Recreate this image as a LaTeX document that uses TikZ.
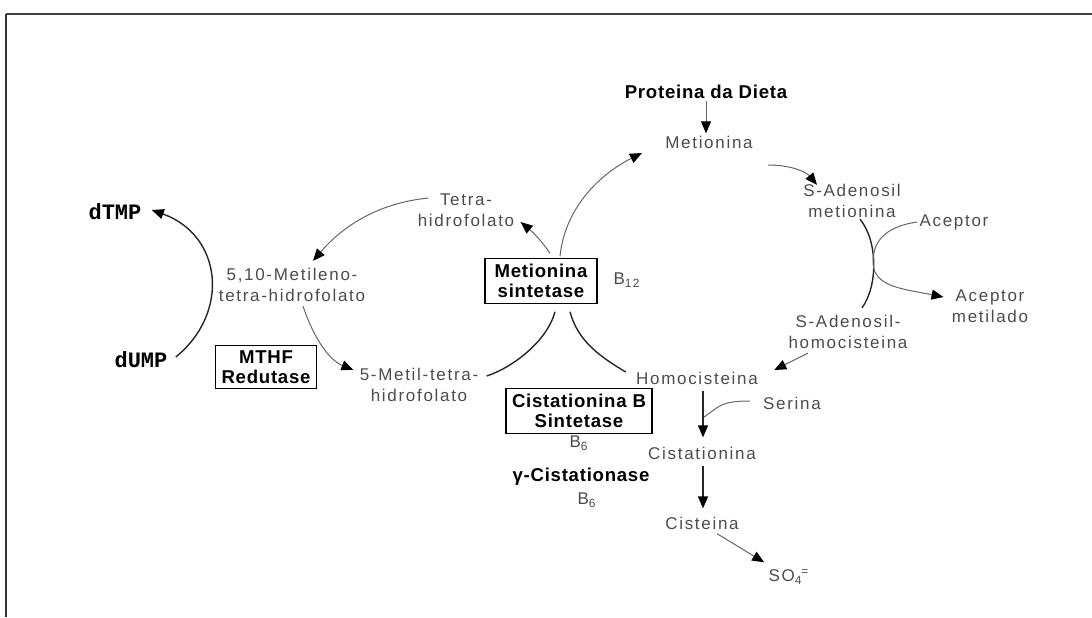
\documentclass[tikz,border=0pt]{standalone}
\usepackage{fontspec}
\setmainfont{Liberation Sans}
\newfontfamily\lab[LetterSpace=10]{Liberation Sans}
\newfontfamily\boldlab[LetterSpace=4]{Liberation Sans}
\newfontfamily\monolab{Liberation Mono}
\usetikzlibrary{arrows.meta,calc}

\begin{document}
\begin{tikzpicture}[x=0.5pt,y=-0.5pt,
	lbl/.style={font=\lab\fontsize{8.5}{10.5}\selectfont,text=black!70,align=center,inner sep=1pt},
	blbl/.style={font=\boldlab\bfseries\fontsize{9.3}{10.3}\selectfont,align=center,inner sep=1pt},
	enz/.style={blbl,draw,line width=.6pt,inner xsep=3pt,inner ysep=2.5pt},
	mono/.style={font=\monolab\bfseries\fontsize{11}{12}\selectfont,inner sep=1pt},
	ln/.style={draw=black!60,line width=.5pt},
	dln/.style={draw=black!85,line width=.7pt},
	tip/.style={-{Triangle[length=6pt,width=5pt,color=black]}}]
	\useasboundingbox(0,0)rectangle(1092,617);
	\draw[line width=1.3pt,black!75](6,14)--(1092,14);
	\draw[line width=.8pt,black!80](6,14)--(6,617);
	\node[blbl](prot)at(706,92){Proteina da Dieta};
	\node[lbl](met)at(709,142){Metionina};
	\node[lbl](sam)at(852,201){S-Adenosil\\metionina};
	\node[lbl](acep)at(954,222){Aceptor};
	\node[lbl](acepm)at(990,306){Aceptor\\metilado};
	\node[lbl](sah)at(848,332){S-Adenosil-\\homocisteina};
	\node[lbl](hcy)at(697,378){Homocisteina};
	\node[lbl](ser)at(792,403){Serina};
	\node[lbl](cist)at(702,453){Cistationina};
	\node[lbl](cys)at(702,523){Cisteina};
	\node[lbl](so4)at(789,577){SO\textsubscript{4}\kern-.5pt\textsuperscript{=}};
	\node[lbl](thf)at(466,210){Tetra-\\hidrofolato};
	\node[lbl](mtf)at(292,285){5,10-Metileno-\\tetra-hidrofolato};
	\node[lbl](mthf5)at(419,385){5-Metil-tetra-\\hidrofolato};
	\node[enz](mthfr)at(266,367){MTHF\\Redutase};
	\node[enz,minimum width=56pt](ms)at(541,281){Metionina\\sintetase};
	\node[lbl](b12)at(627,280){B\textsubscript{12}};
	\node[enz](cbs)at(579,411){Cistationina B\\Sintetase};
	\node[lbl](b6a)at(579,443){B\textsubscript{6}};
	\node[blbl](gcase)at(581,477){γ-Cistationase};
	\node[lbl](b6b)at(587,500){B\textsubscript{6}};
	\node[mono](dtmp)at(115,212){dTMP};
	\node[mono](dump)at(141,360){dUMP};
	\coordinate(j1)at(704,417);
	\coordinate(j2)at(873,262);
	\draw[ln,tip](prot.south)--(prot.south|-met.north);
	\draw[ln,tip]($(ms.north)+(19,-2)$)..controls+(5,-50)and+(-40,20)..($(met.west)+(-21,11)$);
	\draw[ln,tip]($(ms.north)+(9,-5)$)..controls+(-8,-12)and+(12,10)..($(thf.east)+(4,12)$);
	\draw[ln,tip]($(thf.west)+(13,-12)$)..controls+(-50,5)and+(30,-35)..($(mtf.north)+(21,-5)$);
	\draw[ln,tip]($(mtf.south)+(11,2)$)..controls+(10,30)and+(-25,-10)..($(mthf5.north west)+(-4,4)$);
	\draw[dln]($(ms.south)+(14,8)$)..controls+(-8,30)and+(25,-8)..($(mthf5.east)+(6,-9)$);
	\draw[dln]($(ms.south)+(29,8)$)..controls+(8,30)and+(-25,-15)..($(hcy.west)+(-8,-6)$);
	\draw[ln,tip]($(met.east)+(13,23)$)..controls+(25,0)and+(-10,-12)..($(sam.north)+(-35,3)$);
	\draw[dln]($(sam.south)+(8,-1)$)..controls+(18,22)and+(16,-22)..($(sah.north)+(14,-5)$);
	\draw[ln,tip](acep.west)..controls+(-35,5)and+(0,-18)..(j2)..controls+(0,25)and+(-40,-8)..($(acepm.west)+(-6,-9)$);
	\draw[ln,tip]($(sah.south)+(-40,2)$)--($(hcy.east)+(14,-8)$);
	\draw[dln,tip]($(hcy.south)+(6,4)$)--($(cist.north)+(1,-7)$);
	\draw[ln]($(ser.west)+(-11,-2)$)..controls+(-30,0)and+(15,-10)..(j1);
	\draw[dln,tip]($(cist.south)+(1,4)$)--($(cys.north)+(1,-6)$);
	\draw[ln,tip]($(cys.south)+(15,2)$)--($(so4.north west)+(-2,-5)$);
	\draw[dln,tip]($(dump.east)+(6,-3)$)..controls+(55,-45)and+(70,25)..($(dtmp.east)+(8,-2)$);
\end{tikzpicture}
\end{document}
